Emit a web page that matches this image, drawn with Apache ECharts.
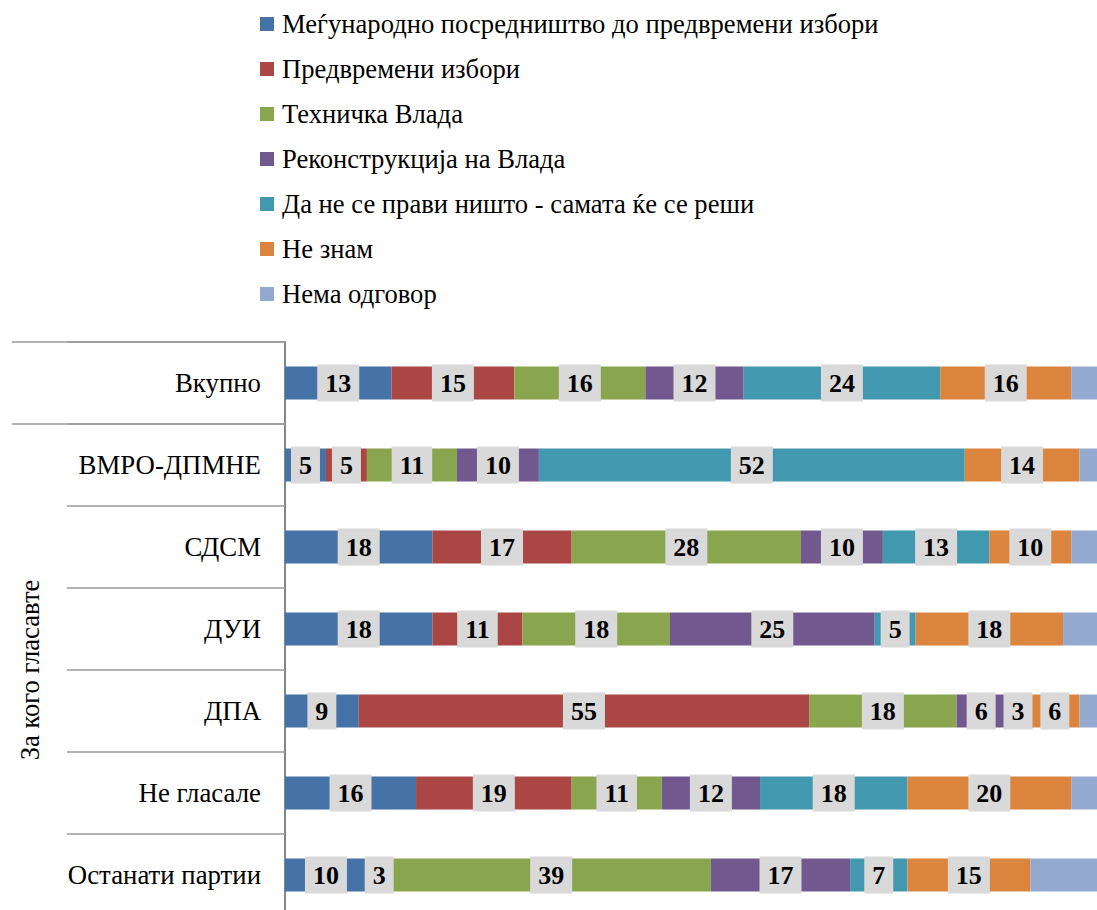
<!DOCTYPE html>
<html>
<head>
<meta charset="utf-8">
<script src="https://cdn.jsdelivr.net/npm/echarts@6/dist/echarts.min.js"></script>
<style>
    html, body { margin: 0; padding: 0; background: #fff; }
    #chart { width: 1097px; height: 910px; }
</style>
</head>
<body>
<div id="chart"></div>
<script>
// податоци
var categories = ["Вкупно", "ВМРО-ДПМНЕ", "СДСМ", "ДУИ", "ДПА", "Не гласале", "Останати партии"];
var seriesNames = [
    "Меѓународно посредништво до предвремени избори",
    "Предвремени избори",
    "Техничка Влада",
    "Реконструкција на Влада",
    "Да не се прави ништо - самата ќе се реши",
    "Не знам",
    "Нема одговор"
];
var mediation = [13, 5, 18, 18, 9, 16, 10];
var earlyElections = [15, 5, 17, 11, 55, 19, 3];
var technicalGov = [16, 11, 28, 18, 18, 11, 39];
var reconstruction = [12, 10, 10, 25, 6, 12, 17];
var doNothing = [24, 52, 13, 5, 3, 18, 7];
var dontKnow = [16, 14, 10, 18, 6, 20, 15];
var noAnswer = [4, 3, 4, 5, 3, 4, 9];

var allValues = [mediation, earlyElections, technicalGov, reconstruction, doNothing, dontKnow, noAnswer];
var colors = ["#4572a7", "#aa4643", "#89a54e", "#71588f", "#4198af", "#db843d", "#93a9cf"];
var font = "'Liberation Serif', 'DejaVu Serif', serif";

var chart = echarts.init(document.getElementById("chart"), null, { renderer: "svg" });

var series = [];
for (var i = 0; i < seriesNames.length; i++) {
    series.push({
        name: seriesNames[i],
        type: "bar",
        stack: "total",
        barWidth: 33,
        data: allValues[i],
        itemStyle: { color: colors[i] },
        label: {
            show: i < 6,
            position: "inside",
            fontFamily: font,
            fontSize: 26,
            fontWeight: "bold",
            color: "#000",
            backgroundColor: "#d9d9d9",
            padding: [6, 8, 5, 8]
        }
    });
}

var option = {
    animation: false,
    color: colors,
    legend: {
        orient: "vertical",
        left: 255,
        top: 4,
        itemWidth: 14,
        itemHeight: 14,
        itemGap: 15,
        icon: "rect",
        data: seriesNames,
        textStyle: {
            fontFamily: font,
            fontSize: 26.6,
            lineHeight: 30,
            color: "#000",
            padding: [0, 0, 0, 3]
        }
    },
    grid: {
        left: 285,
        right: -7,
        top: 342,
        bottom: -6,
        containLabel: false,
        outerBoundsMode: "none"
    },
    xAxis: {
        type: "value",
        min: 0,
        max: 100,
        show: false
    },
    yAxis: [
        {
            type: "category",
            inverse: true,
            data: categories,
            name: "За кого гласавте",
            nameLocation: "middle",
            nameRotate: 90,
            nameGap: 242,
            nameTextStyle: {
                fontFamily: font,
                fontSize: 26.6,
                color: "#000",
                padding: [0, 82, 0, 0]
            },
            axisLine: { show: true, lineStyle: { color: "#868686", width: 2 } },
            axisTick: { show: true, length: 218, lineStyle: { color: "#9a9a9a", width: 1.5 } },
            axisLabel: {
                margin: 24,
                fontFamily: font,
                fontSize: 26.8,
                color: "#000"
            },
            splitLine: { show: false }
        },
        {
            // горните подолги линии (Вкупно посебно)
            type: "category",
            position: "left",
            inverse: true,
            data: categories,
            axisLine: { show: false },
            axisLabel: { show: false },
            axisTick: {
                show: true,
                length: 273,
                interval: function (index) { return index < 2; },
                lineStyle: { color: "#9a9a9a", width: 1.5 }
            }
        }
    ],
    series: series
};
chart.setOption(option);
</script>
</body>
</html>
